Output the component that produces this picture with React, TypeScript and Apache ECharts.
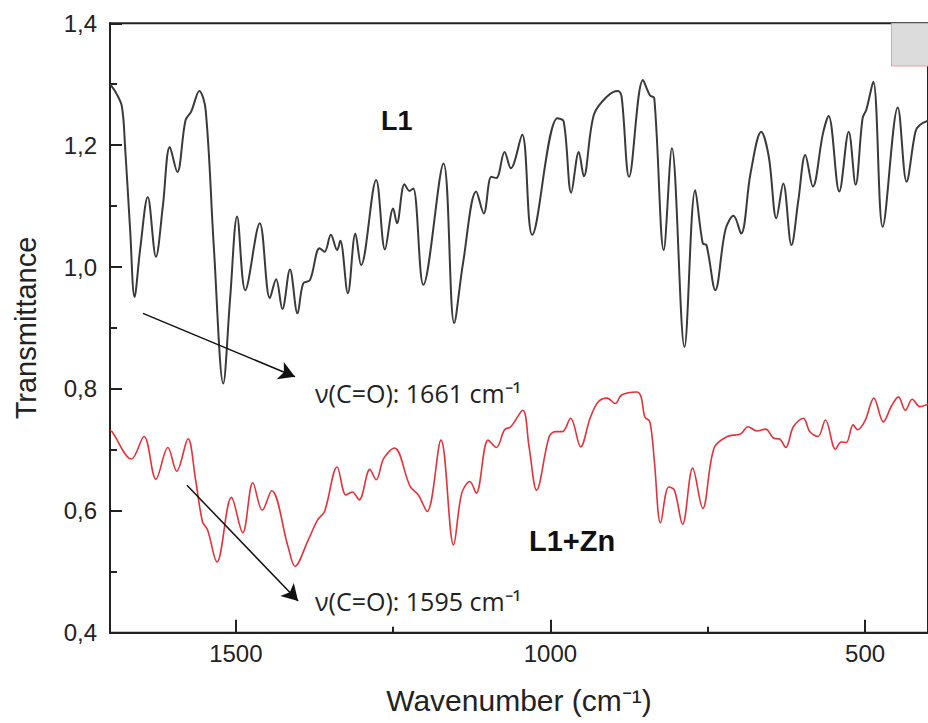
import React, { useEffect, useRef } from "react";
import * as echarts from "echarts";

// ---- Data ----
const wavenumberL1 = [
  1700, 1690, 1681, 1676, 1668, 1661, 1652, 1640, 1627, 1616, 1605, 1593, 1580, 1571, 1558, 1548,
  1535, 1520, 1509, 1498, 1485, 1462, 1446, 1436, 1426, 1414, 1402, 1393, 1382, 1367, 1359, 1349,
  1339, 1334, 1322, 1310, 1301, 1277, 1263, 1250, 1244, 1232, 1224, 1218, 1202, 1170, 1153, 1139,
  1118, 1106, 1094, 1086, 1073, 1063, 1045, 1029, 989, 979, 967, 955, 947, 931, 910, 893, 887, 875,
  853, 842, 835, 820, 807, 787, 770, 758, 752, 738, 722, 709, 697, 682, 665, 653, 641, 630, 617, 606,
  595, 583, 567, 558, 541, 526, 515, 504, 498, 487, 472, 448, 434, 420, 413, 400,
];
const transmittanceL1 = [
  1.3, 1.285, 1.263, 1.197, 1.061, 0.951, 1.03, 1.115, 1.017, 1.1, 1.197, 1.156, 1.241, 1.255, 1.289, 1.258,
  1.033, 0.809, 0.95, 1.083, 0.962, 1.072, 0.949, 0.98, 0.931, 0.996, 0.924, 0.973, 0.979, 1.031, 1.025, 1.053,
  1.028, 1.043, 0.957, 1.055, 1.003, 1.143, 1.029, 1.096, 1.072, 1.136, 1.125, 1.129, 0.971, 1.17, 0.908, 1.006,
  1.124, 1.088, 1.148, 1.146, 1.189, 1.162, 1.217, 1.053, 1.244, 1.239, 1.122, 1.189, 1.149, 1.25, 1.28, 1.289, 1.28, 1.148,
  1.307, 1.282, 1.277, 1.028, 1.195, 0.869, 1.126, 1.039, 1.036, 0.962, 1.061, 1.084, 1.055, 1.154, 1.222, 1.181, 1.08, 1.137, 1.036, 1.11,
  1.184, 1.132, 1.219, 1.248, 1.124, 1.222, 1.135, 1.244, 1.258, 1.304, 1.066, 1.262, 1.14, 1.222, 1.233, 1.24,
];

const wavenumberZn = [
  1700, 1697, 1666, 1646, 1627, 1608, 1594, 1576, 1564, 1553, 1545, 1530, 1507, 1489, 1473, 1458,
  1443, 1417, 1406, 1385, 1370, 1359, 1339, 1325, 1315, 1304, 1287, 1277, 1265, 1248, 1223, 1210,
  1196, 1174, 1154, 1141, 1128, 1118, 1099, 1086, 1073, 1063, 1044, 1034, 1022, 1002, 992, 981,
  968, 952, 937, 924, 910, 897, 887, 863, 856, 850, 842, 835, 825, 812, 803, 790, 774, 758, 740,
  719, 698, 686, 672, 658, 645, 636, 626, 614, 598, 588, 575, 563, 547, 538, 530, 519, 512, 500,
  486, 471, 458, 447, 436, 425, 413, 400,
];
const transmittanceZn = [
  0.732, 0.73, 0.685, 0.722, 0.652, 0.704, 0.665, 0.718, 0.651, 0.582, 0.569, 0.516, 0.622, 0.564, 0.646, 0.601,
  0.633, 0.541, 0.509, 0.552, 0.585, 0.599, 0.672, 0.626, 0.631, 0.618, 0.668, 0.651, 0.686, 0.703, 0.64, 0.626,
  0.599, 0.716, 0.544, 0.629, 0.648, 0.629, 0.716, 0.704, 0.733, 0.738, 0.765, 0.705, 0.634, 0.722, 0.73, 0.73,
  0.752, 0.705, 0.752, 0.779, 0.785, 0.776, 0.79, 0.795, 0.787, 0.754, 0.746, 0.683, 0.58, 0.639, 0.634, 0.578, 0.67, 0.604, 0.703,
  0.722, 0.726, 0.738, 0.731, 0.734, 0.719, 0.718, 0.704, 0.738, 0.752, 0.73, 0.722, 0.749, 0.701, 0.713, 0.712, 0.741, 0.733, 0.748,
  0.785, 0.746, 0.772, 0.787, 0.765, 0.783, 0.771, 0.775,
];

const xTickValues = [500, 1000, 1500];
const xMinorTickValues = [750, 1250];

// Arrow annotations: [start wavenumber, start value, end wavenumber, end value]
const arrowL1 = [1647.6, 0.924, 1406, 0.82];
const arrowZn = [1577.7, 0.642, 1401, 0.452];
const labelL1 = "ν(C=O): 1661 cm⁻¹";
const labelZn = "ν(C=O): 1595 cm⁻¹";

const AXIS_COLOR = "#222";
const SANS = "'Liberation Sans', Arial, sans-serif";

export default function App() {
  const ref = useRef<HTMLDivElement>(null);

  useEffect(() => {
    if (!ref.current) return;
    const chart = echarts.init(ref.current, undefined, { renderer: "svg" });
    const dataL1 = wavenumberL1.map((w, i) => [w, transmittanceL1[i]]);
    const dataZn = wavenumberZn.map((w, i) => [w, transmittanceZn[i]]);

    const commonX = {
      type: "value" as const,
      min: 400,
      max: 1700,
      inverse: true,
      splitLine: { show: false },
    };

    chart.setOption({
      animation: false,
      backgroundColor: "#fff",
      grid: {
        left: 110,
        right: -8.5,
        top: 23.3,
        bottom: 90.3,
        show: true,
        borderColor: AXIS_COLOR,
        borderWidth: 2,
        backgroundColor: "transparent",
      },
      xAxis: [
        {
          ...commonX,
          position: "bottom",
          name: "Wavenumber (cm⁻¹)",
          nameLocation: "middle",
          nameGap: 53,
          nameTextStyle: { fontSize: 30, color: AXIS_COLOR, fontFamily: SANS },
          axisLine: { show: true, lineStyle: { color: AXIS_COLOR, width: 2 } },
          axisTick: {
            show: true,
            inside: true,
            length: 13,
            customValues: xTickValues,
            lineStyle: { color: AXIS_COLOR, width: 2 },
          },
          axisLabel: {
            customValues: xTickValues,
            fontSize: 24,
            color: AXIS_COLOR,
            fontFamily: SANS,
            margin: 9,
            formatter: (v: number) => String(Math.round(v)),
          },
        },
        {
          ...commonX,
          position: "bottom",
          axisLine: { show: false },
          axisTick: {
            show: true,
            inside: true,
            length: 6,
            customValues: xMinorTickValues,
            lineStyle: { color: AXIS_COLOR, width: 2 },
          },
          axisLabel: { show: false },
        },
      ],
      yAxis: {
        type: "value",
        min: 0.4,
        max: 1.4,
        interval: 0.2,
        name: "Transmittance",
        nameLocation: "middle",
        nameGap: 70,
        nameRotate: 90,
        nameTextStyle: { fontSize: 29, color: AXIS_COLOR, fontFamily: SANS },
        splitLine: { show: false },
        axisLine: { show: true, lineStyle: { color: AXIS_COLOR, width: 2 } },
        axisTick: { show: true, inside: true, length: 12, lineStyle: { color: AXIS_COLOR, width: 2 } },
        minorTick: { show: true, splitNumber: 2, length: 7, lineStyle: { color: AXIS_COLOR, width: 2 } },
        axisLabel: {
          fontSize: 24,
          color: AXIS_COLOR,
          fontFamily: SANS,
          margin: 13,
          formatter: (v: number) => v.toFixed(1).replace(".", ","),
        },
      },
      series: [
        {
          name: "L1",
          type: "line",
          data: dataL1,
          xAxisIndex: 0,
          showSymbol: false,
          smooth: 0.35,
          lineStyle: { color: "#3a3a3a", width: 2 },
          silent: true,
          markLine: {
            silent: true,
            symbol: ["none", "arrow"],
            symbolSize: [14, 16],
            label: { show: false },
            lineStyle: { color: "#111", width: 1.5, type: "solid" },
            data: [
              [{ coord: [arrowL1[0], arrowL1[1]] }, { coord: [arrowL1[2], arrowL1[3]] }],
              [{ coord: [arrowZn[0], arrowZn[1]] }, { coord: [arrowZn[2], arrowZn[3]] }],
            ],
          },
        },
        {
          name: "L1+Zn",
          type: "line",
          data: dataZn,
          xAxisIndex: 0,
          showSymbol: false,
          smooth: 0.35,
          lineStyle: { color: "#e3323a", width: 1.6 },
          silent: true,
        },
      ],
      graphic: [
        {
          type: "rect",
          shape: { x: 891.5, y: 23.5, width: 60, height: 42.5 },
          style: { fill: "#dcdcdc", stroke: "#e8a0a0", lineWidth: 1 },
        },
        {
          type: "text",
          left: 381,
          top: 107,
          style: { text: "L1", font: `bold 27px ${SANS}`, fill: "#111" },
        },
        {
          type: "text",
          left: 529,
          top: 526,
          style: { text: "L1+Zn", font: `bold 29px ${SANS}`, fill: "#111" },
        },
        {
          type: "text",
          left: 315,
          top: 380,
          style: { text: labelL1, font: `25px 'Open Sans', sans-serif`, fill: "#222" },
        },
        {
          type: "text",
          left: 315,
          top: 588,
          style: { text: labelZn, font: `25px 'Open Sans', sans-serif`, fill: "#222" },
        },
      ],
    });

    return () => chart.dispose();
  }, []);

  return (
    <div
      ref={ref}
      style={{ position: "absolute", left: 0, top: 0, width: 928, height: 723 }}
    />
  );
}
